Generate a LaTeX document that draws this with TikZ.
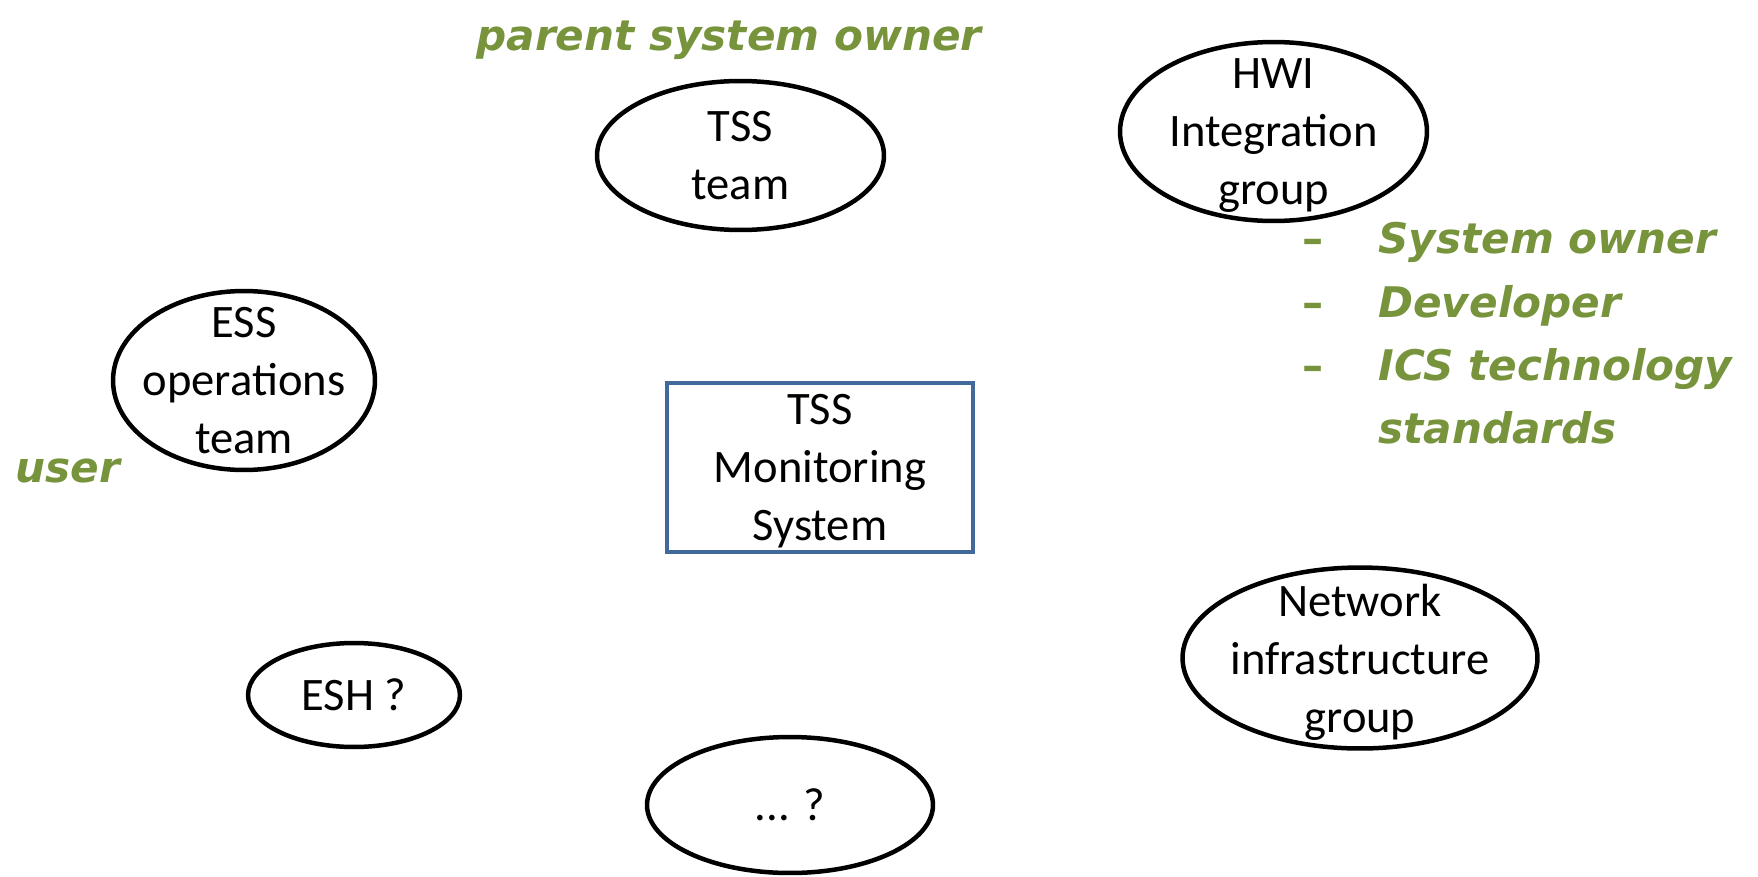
\documentclass[tikz,border=0pt]{standalone}
\usepackage{fontspec}
\setmainfont{Carlito}
\newfontfamily\notefont{DejaVu Sans}
\usetikzlibrary{shapes.geometric}
\definecolor{notegreen}{HTML}{77933C}
\definecolor{boxblue}{HTML}{41699C}

\begin{document}
\begin{tikzpicture}[x=0.02cm, y=-0.02cm,
  % ellipse size is fixed by minimum width/height, not by the text
  party/.style={ellipse, draw=black, line width=0.09cm, inner sep=-45pt,
    align=center, text depth=0pt, font=\fontsize{26.5}{33}\selectfont},
  sysbox/.style={rectangle, draw=boxblue, line width=0.07cm, inner sep=0pt,
    align=center, text depth=0pt, font=\fontsize{26.5}{33}\selectfont},
  note/.style={text=notegreen, inner sep=0pt, anchor=base west,
    font=\notefont\bfseries\itshape\fontsize{24}{30}\selectfont},
  bullet/.style={note, font=\notefont\bfseries\fontsize{24}{30}\selectfont}]

\useasboundingbox (0,0) rectangle (1758,876);

% stakeholders around the system
\node[party, minimum width=5.74cm, minimum height=2.98cm] (tssteam) at (740.5,155.5) {TSS\\team};
\node[party, minimum width=6.14cm, minimum height=3.58cm] (hwi) at (1273.5,131.5) {HWI\\Integration\\group};
\node[party, minimum width=5.24cm, minimum height=3.58cm] (ess) at (244,380.5) {ESS\\operations\\team};
\node[party, minimum width=4.24cm, minimum height=2.08cm] (esh) at (354,695) {ESH ?};
\node[party, minimum width=5.72cm, minimum height=2.72cm] (other) at (790,805) {... ?};
\node[party, minimum width=7.10cm, minimum height=3.62cm] (net) at (1360,658) {Network\\infrastructure\\group};

% the system itself
\node[sysbox, minimum width=6.12cm, minimum height=3.38cm] (tms) at (820,467.5) {TSS\\Monitoring\\System};

% role annotations
\node[note] (pso) at (476,50) {parent system owner};
\node[note] (usr) at (15,482) {user};
\node[bullet] (d1) at (1302,253) {–};
\node[bullet] (d2) at (1302,317) {–};
\node[bullet] (d3) at (1302,380) {–};
\node[note] (r1) at (1378,253) {System owner};
\node[note] (r2) at (1378,317) {Developer};
\node[note] (r3) at (1378,380) {ICS technology};
\node[note] (r4) at (1378,443) {standards};
\end{tikzpicture}
\end{document}
